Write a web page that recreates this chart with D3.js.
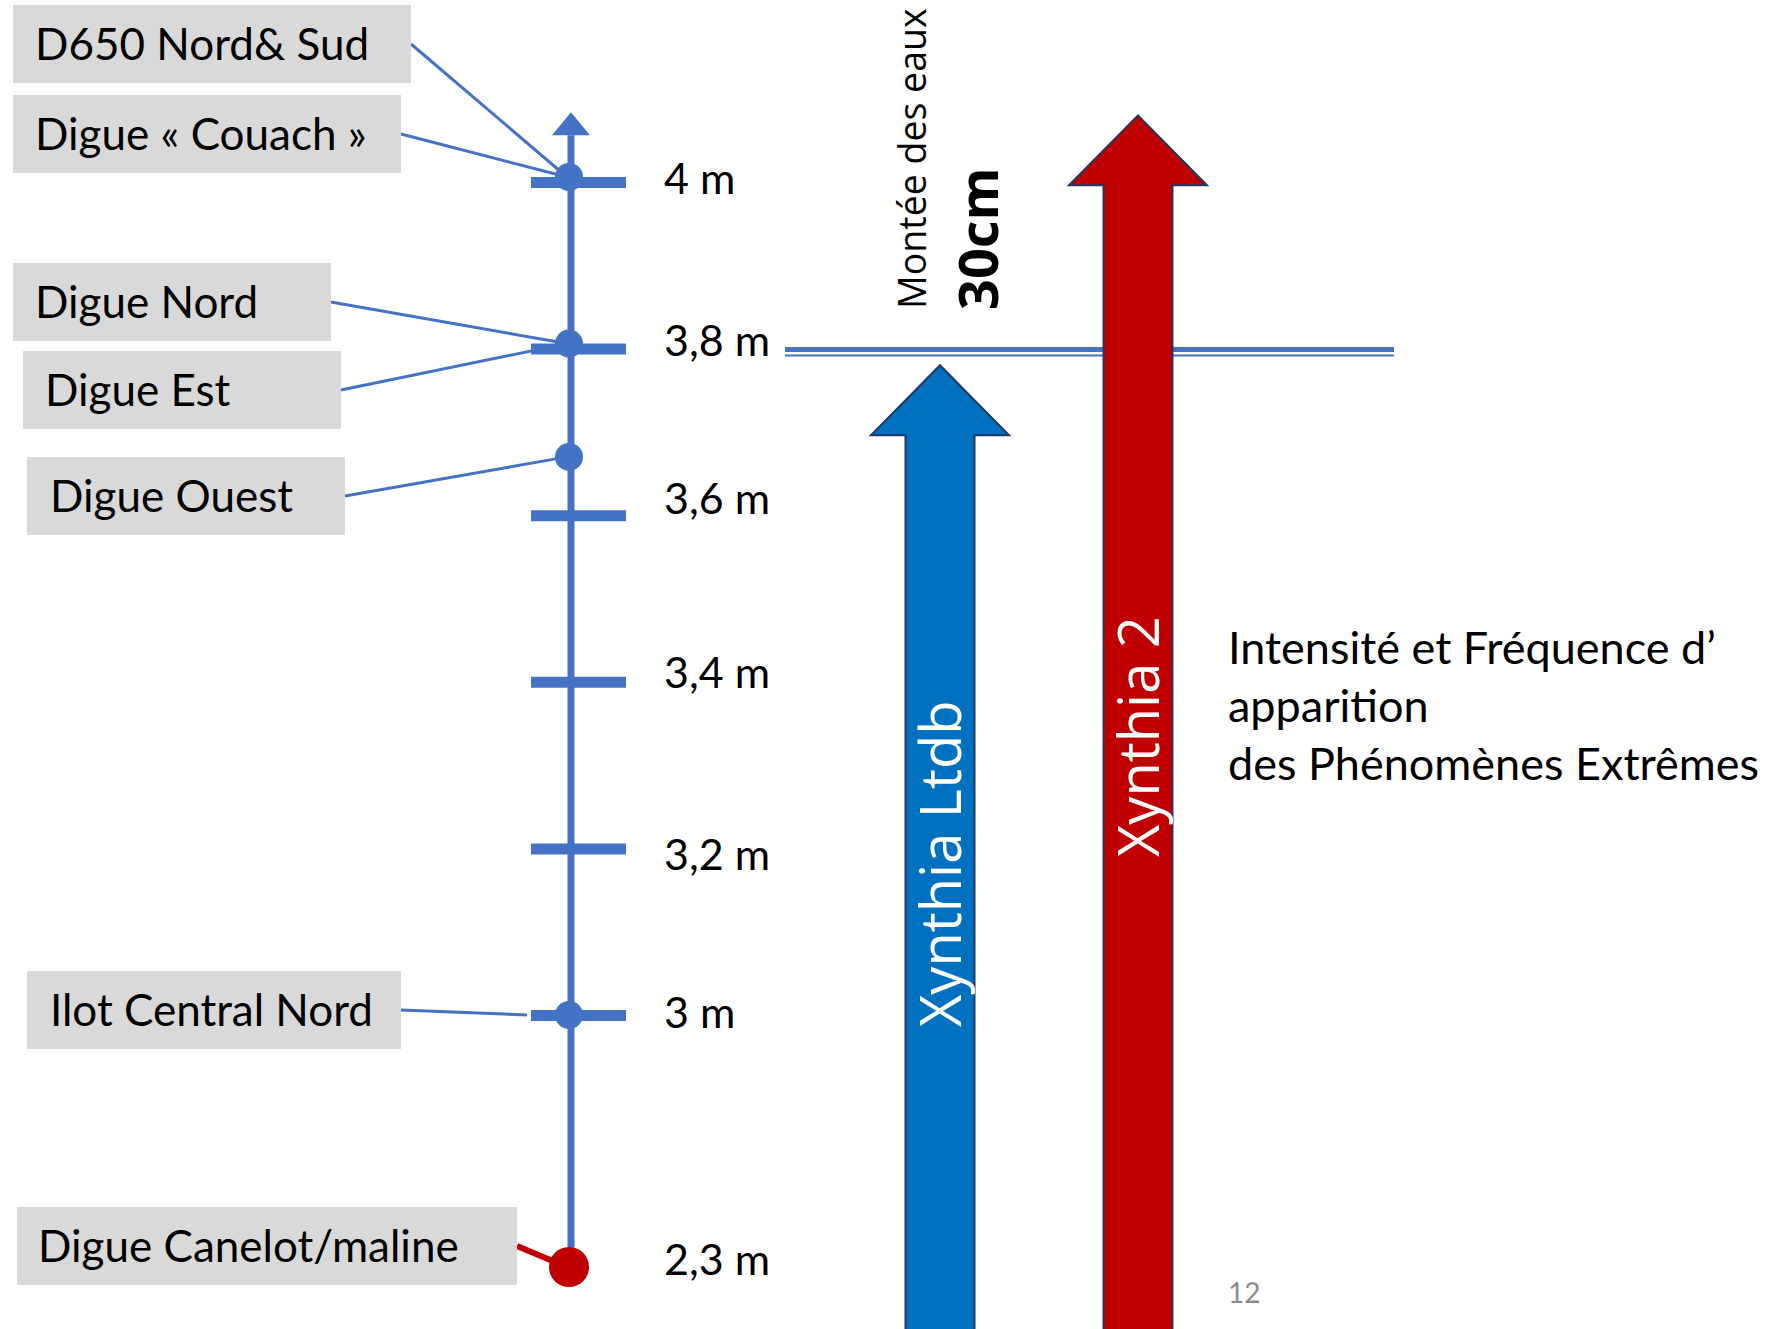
<!DOCTYPE html>
<html>
<head>
<meta charset="utf-8">
<script src="https://cdn.jsdelivr.net/npm/d3@7"></script>
<style>
  body { margin: 0; background: #fff; }
  svg { display: block; }
</style>
</head>
<body>
<svg id="chart" width="1773" height="1329"></svg>
<script>
// levels shown on the gauge (m)
const tickLevels = [4, 3.8, 3.6, 3.4, 3.2, 3];
const labelLevels = [4, 3.8, 3.6, 3.4, 3.2, 3, 2.3];

// sites and their crest level (m)
const siteNames = ["D650 Nord& Sud", "Digue « Couach »", "Digue Nord", "Digue Est", "Digue Ouest", "Ilot Central Nord", "Digue Canelot/maline"];
const siteLevels = [4, 4, 3.8, 3.8, 3.67, 3, 2.3];

// storms : top of the arrow (m)
const stormNames = ["Xynthia Ltdb", "Xynthia 2"];
const stormLevels = [3.78, 4.08];
const stormColors = ["#0070C0", "#C00000"];

const waterRise = 3.8;          // level of the double line
const riseText = ["Montée des eaux", "30cm"];
const sideText = ["Intensité et Fréquence d’", "apparition", "des Phénomènes Extrêmes"];
const pageNumber = "12";

const svg = d3.select("#chart");
const blue = "#4472C4";
const calibri = "Lato, 'Open Sans', sans-serif";
const segoe = "'Open Sans', 'Noto Sans', sans-serif";

// broken scale : 2,3 m is drawn just below 3 m
const y = d3.scaleLinear()
  .domain([2.3, 3, 4])
  .range([1267, 1015, 182]);

const ax = 571; // gauge x

svg.append("rect").attr("width", 1773).attr("height", 1329).attr("fill", "#fff");

// label boxes (layout only)
const boxes = [
  { x: 13, y: 5, w: 398, tx: 35 },
  { x: 13, y: 95, w: 388, tx: 35 },
  { x: 13, y: 263, w: 318, tx: 35 },
  { x: 23, y: 351, w: 318, tx: 45 },
  { x: 27, y: 457, w: 318, tx: 50 },
  { x: 27, y: 971, w: 374, tx: 50 },
  { x: 17, y: 1207, w: 500, tx: 38 }
];
const boxH = 78;
// hand placed tick labels in the slide: vertical nudge per label
const labelNudge = [-2, -7, -15, -8, 7, -1, -6];

const sites = siteNames.map((n, i) => ({ name: n, level: siteLevels[i], box: boxes[i] }));

// leader lines
svg.append("g").selectAll("line")
  .data(sites)
  .join("line")
  .attr("x1", d => d.box.x + d.box.w)
  .attr("y1", d => d.box.y + boxH / 2)
  .attr("x2", d => d.name === "Ilot Central Nord" ? ax - 44 : ax - 4)
  .attr("y2", d => y(d.level) - (d.level >= 3.8 ? 5 : 0))
  .attr("stroke", d => d.level === 2.3 ? "#C00000" : blue)
  .attr("stroke-width", d => d.level === 2.3 ? 6 : 3);

// boxes
const bg = svg.append("g").selectAll("g")
  .data(sites)
  .join("g");
bg.append("rect")
  .attr("x", d => d.box.x)
  .attr("y", d => d.box.y)
  .attr("width", d => d.box.w)
  .attr("height", boxH)
  .attr("fill", "#D9D9D9");
bg.append("text")
  .attr("x", d => d.box.tx)
  .attr("y", d => d.box.y + 55)
  .attr("font-family", calibri)
  .attr("font-size", 44)
  .attr("fill", "#000")
  .text(d => d.name);

// gauge line with arrow head
svg.append("line")
  .attr("x1", ax).attr("x2", ax)
  .attr("y1", y(2.3)).attr("y2", y(4.08) + 20)
  .attr("stroke", blue).attr("stroke-width", 7);
const tipY = y(4.08) - 3;
svg.append("path")
  .attr("d", `M${ax},${tipY}L${ax + 19},${tipY + 23}L${ax - 19},${tipY + 23}Z`)
  .attr("fill", blue);

// ticks + labels through a d3 axis
const axis = d3.axisRight(y)
  .tickValues(labelLevels)
  .tickSize(95)
  .tickPadding(38)
  .tickFormat(d => String(d).replace(".", ",") + " m");
const ag = svg.append("g")
  .attr("transform", `translate(${ax - 40},0)`)
  .call(axis);
ag.select(".domain").remove();
ag.selectAll(".tick line")
  .attr("stroke", blue)
  .attr("stroke-width", 11)
  .attr("display", d => tickLevels.includes(d) ? null : "none");
ag.selectAll(".tick text")
  .attr("font-family", calibri)
  .attr("font-size", 43)
  .attr("fill", "#000")
  .attr("dy", d => (0.32 * 43 + labelNudge[labelLevels.indexOf(d)]) + "px");

// site dots
svg.append("g").selectAll("circle")
  .data(sites.filter((d, i, a) => a.findIndex(e => e.level === d.level) === i))
  .join("circle")
  .attr("cx", ax - 2)
  .attr("cy", d => y(d.level) - (d.level >= 3.8 ? 5 : 0))
  .attr("r", d => d.level === 2.3 ? 20 : 14)
  .attr("fill", d => d.level === 2.3 ? "#C00000" : blue);

// double line : water rise
const wy = y(waterRise);
svg.append("line")
  .attr("x1", 785).attr("x2", 1394)
  .attr("y1", wy + 1).attr("y2", wy + 1)
  .attr("stroke", blue).attr("stroke-width", 5);
svg.append("line")
  .attr("x1", 785).attr("x2", 1394)
  .attr("y1", wy + 7).attr("y2", wy + 7)
  .attr("stroke", blue).attr("stroke-width", 2);

// storm arrows
const arrowX = [940, 1138];
const textStart = [1027, 857];
const storms = stormNames.map((n, i) => ({ name: n, level: stormLevels[i], color: stormColors[i], cx: arrowX[i], t0: textStart[i] }));
const headLen = 70, headHalf = 69, shaftHalf = 34.5, bottom = 1340;

const line = d3.line();
const sg = svg.append("g").selectAll("g")
  .data(storms)
  .join("g");
sg.append("path")
  .attr("d", d => {
    const t = y(d.level);
    return line([
      [d.cx, t],
      [d.cx + headHalf, t + headLen],
      [d.cx + shaftHalf, t + headLen],
      [d.cx + shaftHalf, bottom],
      [d.cx - shaftHalf, bottom],
      [d.cx - shaftHalf, t + headLen],
      [d.cx - headHalf, t + headLen]
    ]) + "Z";
  })
  .attr("fill", d => d.color)
  .attr("stroke", "#1F3864")
  .attr("stroke-width", 2);
sg.append("text")
  .attr("transform", d => `translate(${d.cx + 21},${d.t0}) rotate(-90)`)
  .attr("font-family", segoe)
  .attr("font-size", 56)
  .attr("fill", "#fff")
  .text(d => d.name);

// water rise caption
svg.append("text")
  .attr("transform", "translate(926,309) rotate(-90)")
  .attr("font-family", segoe)
  .attr("font-size", 37.5)
  .attr("fill", "#000")
  .text(riseText[0]);
svg.append("text")
  .attr("transform", "translate(998,310) rotate(-90)")
  .attr("font-family", segoe)
  .attr("font-weight", "bold")
  .attr("font-size", 54)
  .attr("fill", "#000")
  .text(riseText[1]);

// side text
svg.append("text")
  .attr("font-family", calibri)
  .attr("font-size", 45)
  .attr("fill", "#000")
  .selectAll("tspan")
  .data(sideText)
  .join("tspan")
  .attr("x", 1228)
  .attr("y", (d, i) => 664 + i * 58)
  .text(d => d);

// page number
svg.append("text")
  .attr("x", 1228).attr("y", 1303)
  .attr("font-family", calibri)
  .attr("font-size", 28)
  .attr("fill", "#8C8C8C")
  .text(pageNumber);
</script>
</body>
</html>
